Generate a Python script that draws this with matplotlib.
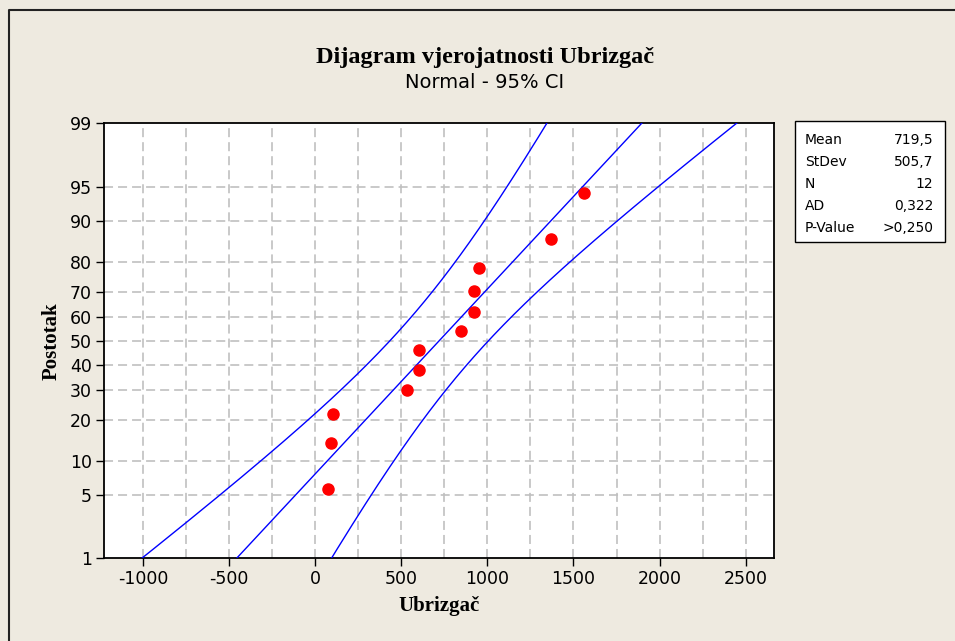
import numpy as np
import matplotlib.pyplot as plt
from matplotlib.patches import Rectangle
from matplotlib.lines import Line2D
from statistics import NormalDist

# data
ubrizgac = [72, 91, 101, 535, 605, 605, 847, 923, 923, 953, 1370, 1560]
mean_val = 719.5
stdev_val = 505.7
n_val = 12
stat_labels = ["Mean", "StDev", "N", "AD", "P-Value"]
stat_values = ["719,5", "505,7", "12", "0,322", ">0,250"]

x_ticks = [-1000, -500, 0, 500, 1000, 1500, 2000, 2500]
y_ticks = [1, 5, 10, 20, 30, 40, 50, 60, 70, 80, 90, 95, 99]

BG = "#EEEAE0"
GRID = "#C0C0C0"

nd = NormalDist()
_ppf = np.vectorize(nd.inv_cdf, otypes=[float])
_cdf = np.vectorize(nd.cdf, otypes=[float])


def fwd(p):
    p = np.clip(np.asarray(p, dtype=float), 1e-6, 100 - 1e-6) / 100
    return _ppf(p)


def inv(z):
    return _cdf(np.asarray(z, dtype=float)) * 100


plt.rcParams['lines.scale_dashes'] = False

fig = plt.figure(figsize=(9.55, 6.41), dpi=100)
fig.patch.set_facecolor(BG)
ax = fig.add_axes([0.1084, 0.129, 0.7021, 0.6786])
ax.set_facecolor("white")
ax.set_yscale('function', functions=(fwd, inv))

# plotting positions (median ranks, as Minitab does)
x_sorted = np.sort(ubrizgac)
ranks = np.arange(1, len(x_sorted) + 1)
pct = (ranks - 0.3) / (len(x_sorted) + 0.4) * 100

# fitted line and 95% confidence band
p_line = np.linspace(0.5, 99.5, 500)
z_line = _ppf(p_line / 100)
fit = mean_val + z_line * stdev_val
half = 1.96 * stdev_val * np.sqrt((1 + z_line ** 2 / 2) / n_val)

ax.plot(fit, p_line, color="#0000FF", lw=1.0, zorder=3)
ax.plot(fit - half, p_line, color="#0000FF", lw=1.0, zorder=3)
ax.plot(fit + half, p_line, color="#0000FF", lw=1.0, zorder=3)
ax.plot(x_sorted, pct, 'o', color="#FF0000", ms=8, mec="#FF0000", zorder=4)

ax.set_xlim(-1230, 2665)
ax.set_ylim(1, 99)

# grid
for gx in np.arange(-1000, 2501, 250):
    ax.axvline(gx, color=GRID, lw=1.2, linestyle=(0, (6.5, 3.6)), zorder=1)
for gy in y_ticks[1:-1]:
    ax.axhline(gy, color=GRID, lw=1.2, linestyle=(0, (6.5, 3.6)), zorder=1)

ax.set_xticks(x_ticks)
ax.set_xticklabels([str(v) for v in x_ticks])
ax.set_yticks(y_ticks)
ax.set_yticklabels([str(v) for v in y_ticks])
ax.minorticks_off()
ax.tick_params(direction='out', length=5.5, width=1.0, labelsize=12.5, pad=3)
for side in ["top", "right", "bottom", "left"]:
    ax.spines[side].set_linewidth(1.3)
    ax.spines[side].set_color("black")

ax.set_xlabel("Ubrizgač", family="Liberation Serif", weight="bold", fontsize=15, labelpad=6)
ax.set_ylabel("Postotak", family="Liberation Serif", weight="bold", fontsize=15, labelpad=6)

fig.text(485 / 955, 1 - 58 / 641, "Dijagram vjerojatnosti Ubrizgač",
         ha="center", va="center", family="Liberation Serif", weight="bold", fontsize=17.5)
fig.text(485 / 955, 1 - 83 / 641, "Normal - 95% CI",
         ha="center", va="center", fontsize=14)

# statistics box
box = Rectangle((795 / 955, 1 - 242 / 641), 150 / 955, 121 / 641,
                transform=fig.transFigure, facecolor="white", edgecolor="black", lw=1.0)
fig.add_artist(box)
for i, (lab, val) in enumerate(zip(stat_labels, stat_values)):
    yy = 1 - (140 + i * 22) / 641
    fig.text(805 / 955, yy, lab, ha="left", va="center", fontsize=10)
    fig.text(933 / 955, yy, val, ha="right", va="center", fontsize=10)

# outer frame (left and top edges)
fig.add_artist(Line2D([9 / 955, 9 / 955, 1], [0, 1 - 10 / 641, 1 - 10 / 641],
                      transform=fig.transFigure, color="#222222", lw=1.5))

fig.savefig("out.png", dpi=100, facecolor=BG)
